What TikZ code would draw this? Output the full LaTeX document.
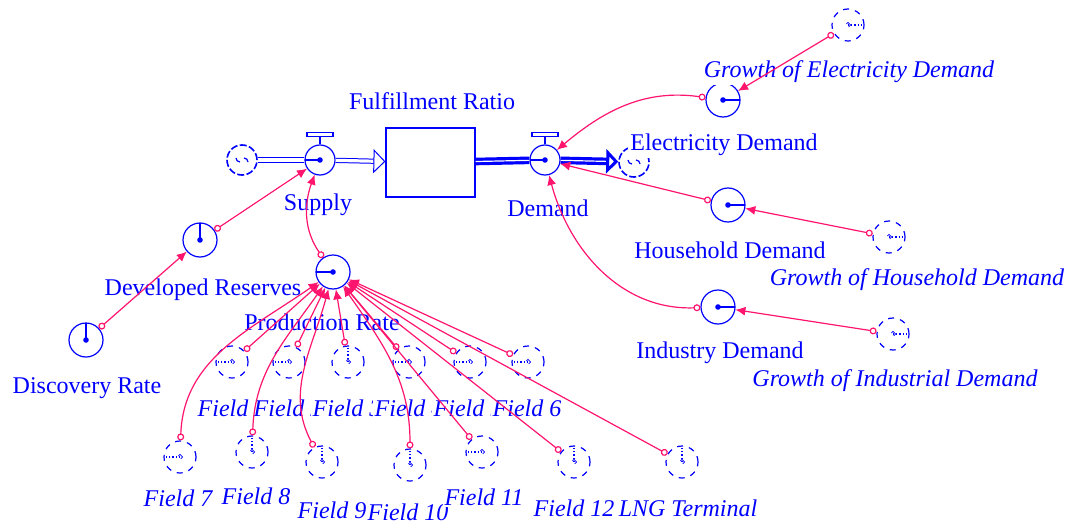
\documentclass[tikz,border=0pt]{standalone}
\usepackage{fontspec}
\setmainfont{Liberation Serif}
\usepackage{xcolor}
\usetikzlibrary{arrows.meta}
\definecolor{vblue}{RGB}{0,0,255}
\definecolor{vpink}{RGB}{255,20,110}

\begin{document}
\begin{tikzpicture}[x=0.5pt,y=-0.5pt,
font=\fontsize{12}{14}\selectfont,
aux/.style={circle,draw=vblue,line width=0.6pt,minimum size=17pt,inner sep=0pt,
  path picture={\fill[vblue] (path picture bounding box.center) circle (1.4pt);
    \draw[vblue,line width=0.6pt] (path picture bounding box.center) -- ++(#1:8.5pt);}},
aux/.default=0,
ghost/.style={circle,draw=vblue,dashed,line width=0.6pt,minimum size=16pt,inner sep=0pt,
  path picture={\draw[vblue,densely dotted,line width=0.6pt] (path picture bounding box.center) -- ++(#1:8pt);
    \draw[vblue,line width=0.4pt] (path picture bounding box.center) ++(1.3pt,0pt) -- ++(-1.3pt,1.3pt) -- ++(-1.3pt,-1.3pt) -- ++(1.3pt,-1.3pt) -- cycle;}},
ghost/.default=0,
valve/.style={circle,draw=vblue,line width=0.6pt,minimum size=15pt,inner sep=0pt,fill=white,
  path picture={\fill[vblue] (path picture bounding box.center) circle (1.4pt);
    \draw[vblue,line width=0.6pt] (path picture bounding box.center) -- ++(180:7.5pt);}},
cloud/.style={circle,draw=vblue,line width=0.8pt,dash pattern=on 3.5pt off 1.2pt,minimum size=15pt,inner sep=0pt,
  path picture={\draw[vblue,line width=0.6pt] (path picture bounding box.center) ++(-3pt,1pt) arc (180:270:2pt)
    (path picture bounding box.center) ++(3pt,-1pt) arc (0:90:2pt);}},
stock/.style={rectangle,draw=vblue,line width=0.6pt,minimum width=44.5pt,minimum height=34.5pt,inner sep=0pt},
pipe/.style={vblue,double,double distance=1.6pt,line width=0.5pt},
bigpipe/.style={vblue,double=white,double distance=0.6pt,line width=1.6pt},
lab/.style={text=vblue,inner sep=1pt},
glab/.style={text=vblue,inner sep=1pt,font=\fontsize{12}{14}\selectfont\itshape},
flab/.style={glab,fill=white},
lnk/.style={vpink,line width=0.6pt,{Circle[open,length=3.5pt,width=3.5pt]}-{Latex[length=5pt,width=4.5pt]}},
]
\useasboundingbox (0,0) rectangle (1080,524);

% stock and flows
\node[cloud] (src) at (242,160) {};
\node[valve] (sup) at (320,160) {};
\node[stock] (stk) at (430.5,162.5) {};
\node[valve] (dem) at (545,160) {};
\node[cloud] (snk) at (634,162) {};
\draw[pipe] (src) -- (sup);
\draw[pipe,-{Triangle[open,length=6pt,width=12pt]}] (sup) -- (stk);
\draw[bigpipe] (stk) -- (dem);
\draw[bigpipe,-{Triangle[open,length=6pt,width=12pt]}] (dem) -- (snk);
\draw[vblue,line width=0.6pt] (sup.north) -- ++(0,-8) ++(-13,0) rectangle ++(26,-4);
\draw[vblue,line width=0.6pt] (dem.north) -- ++(0,-8) ++(-13,0) rectangle ++(26,-4);

\node[lab] (ratioL) at (432,101) {Fulfillment Ratio};
\node[lab] (supL) at (318,205) {Supply};
\node[lab] (demL) at (548,208) {Demand};

% demand side
\node[aux=0] (elecD) at (723,100) {};
\node[aux=0] (houseD) at (728,205) {};
\node[aux=0] (indD) at (718,307) {};
\node[ghost=0] (gElec) at (848,25) {};
\node[ghost=0] (gHouse) at (889,237) {};
\node[ghost=0] (gInd) at (893,334) {};
\node[lab,fill=white] (elecL) at (724,145) {Electricity Demand};
\node[glab,fill=white] (gElecL) at (849,72) {Growth of Electricity Demand};
\node[lab] (houseL) at (730,250) {Household Demand};
\node[glab] (gHouseL) at (917,280) {Growth of Household Demand};
\node[lab] (indL) at (720,353) {Industry Demand};
\node[glab] (gIndL) at (895,381) {Growth of Industrial Demand};

% supply side
\node[aux=90] (devRes) at (200,240) {};
\node[aux=90] (discRate) at (86,340) {};
\node[aux=180] (prodRate) at (333,272) {};
\node[lab] (devL) at (203,290) {Developed Reserves};
\node[lab] (discL) at (87,388) {Discovery Rate};
\node[lab] (prodL) at (322,322) {Production Rate};

% fields
\foreach \n/\x/\y/\a in {1/232/362/180,2/289/362/180,3/348/362/90,4/409/362/180,
  5/470/362/180,6/528/362/180,7/180/457/180,8/252/452/90,9/322/462/90,
  10/410/465/90,11/482/452/180,12/574/462/90}
  \node[ghost=\a] (f\n) at (\x,\y) {};
\node[ghost=90] (lng) at (682,462) {};
\foreach \n/\x/\y in {1/232/408,2/288/408,3/347/408,4/409/408,5/468/408,6/527/408,
  7/178/498,8/256/496,9/332/510,10/408/512,11/484/497}
  \node[flab] (f\n L) at (\x,\y) {Field \n};
\node[flab] (lngL) at (688,508) {LNG Terminal};
\node[flab] (f12L) at (574,508) {Field 12};

% links
\draw[lnk] (gElec) -- (elecD);
\draw[lnk] (elecD) to[out=172,in=40] (dem);
\draw[lnk] (gHouse) -- (houseD);
\draw[lnk] (houseD) -- (dem);
\draw[lnk] (gInd) -- (indD);
\draw[lnk] (indD) to[out=182,in=-75] (dem);
\draw[lnk] (discRate) -- (devRes);
\draw[lnk] (devRes) -- (sup);
\draw[lnk] (prodRate) to[out=125,in=-110] (sup);
\foreach \n in {1,...,6}
  \draw[lnk] (f\n) -- (prodRate);
\draw[lnk] (f7) to[out=88,in=215] (prodRate);
\draw[lnk] (f8) to[out=88,in=235] (prodRate);
\draw[lnk] (f9) to[out=118,in=-105] (prodRate);
\draw[lnk] (f10) to[out=90,in=-55] (prodRate);
\draw[lnk] (f11) -- (prodRate);
\draw[lnk] (f12) -- (prodRate);
\draw[lnk] (lng) -- (prodRate);

\end{tikzpicture}
\end{document}
